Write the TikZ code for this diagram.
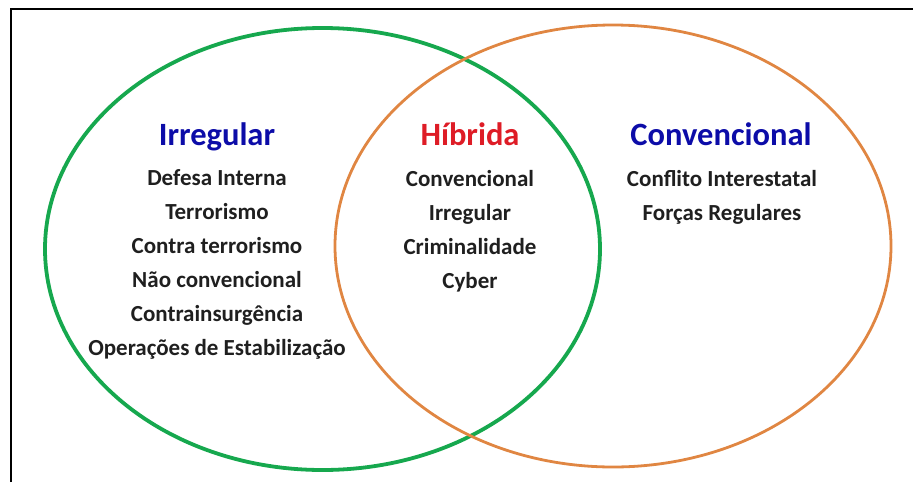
\documentclass[tikz,border=0pt]{standalone}
\usepackage{fontspec}
\setmainfont{Carlito}
\definecolor{vennGreen}{RGB}{22,168,78}
\definecolor{vennOrange}{RGB}{224,134,66}
\definecolor{titleBlue}{RGB}{12,12,168}
\definecolor{titleRed}{RGB}{222,28,38}
\tikzset{
  ttl/.style={anchor=base,font=\fontsize{32.5}{36}\selectfont\bfseries},
  itm/.style={anchor=base,font=\fontsize{23}{26}\selectfont\bfseries,text=black!88},
}
\begin{document}
\begin{tikzpicture}[x=1pt,y=-1pt]
    \useasboundingbox (0,0) rectangle (913,482);
    % moldura
    \draw [line width=1.6pt] (11,482)--(11,9)--(913,9);
    % conjuntos
    \draw [vennGreen,line width=3.8pt] (322.5,249) ellipse [x radius=277.5, y radius=221];
    \draw [vennOrange,line width=2.8pt] (613,246) ellipse [x radius=278, y radius=221];
    % irregular
    \node[ttl,text=titleBlue] (irr) at (217,145) {Irregular};
    \node[itm] (irr1) at (217,185) {Defesa Interna};
    \node[itm] (irr2) at (217,219) {Terrorismo};
    \node[itm] (irr3) at (217,253.5) {Contra terrorismo};
    \node[itm] (irr4) at (217,287.5) {Não convencional};
    \node[itm] (irr5) at (217,321.5) {Contrainsurgência};
    \node[itm] (irr6) at (217,355.5) {Operações de Estabilização};
    % hibrida
    \node[ttl,text=titleRed] (hib) at (470,145) {Híbrida};
    \node[itm] (hib1) at (470,186) {Convencional};
    \node[itm] (hib2) at (470,220) {Irregular};
    \node[itm] (hib3) at (470,254) {Criminalidade};
    \node[itm] (hib4) at (470,288) {Cyber};
    % convencional
    \node[ttl,text=titleBlue] (conv) at (721,145) {Convencional};
    \node[itm] (conv1) at (722,186) {Conflito Interestatal};
    \node[itm] (conv2) at (722,220) {Forças Regulares};
\end{tikzpicture}
\end{document}
